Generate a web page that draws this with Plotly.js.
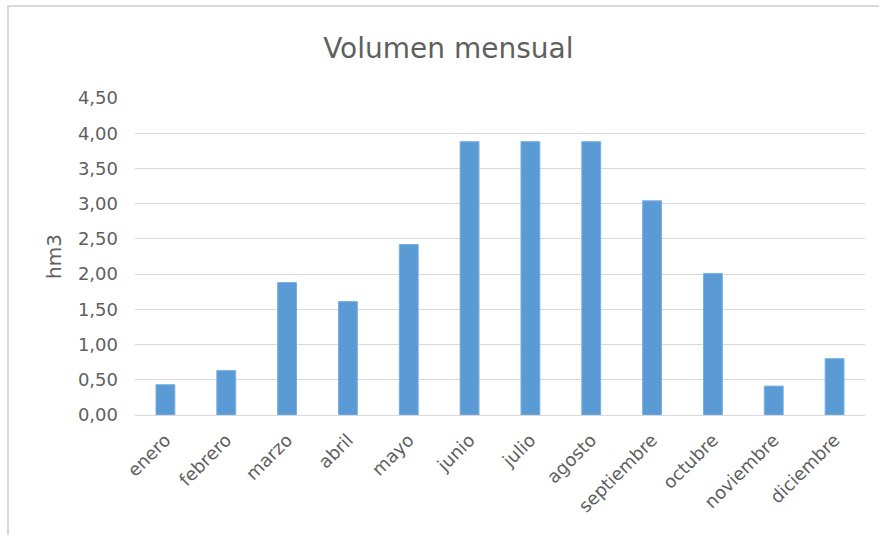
<!DOCTYPE html>
<html>
<head>
<meta charset="utf-8">
<script src="https://cdn.plot.ly/plotly-3.0.1.min.js"></script>
<style>
  html, body { margin: 0; padding: 0; background: #ffffff; overflow: hidden; }
  #frame { position: absolute; left: 7px; top: 5px; width: 880px; height: 540px; border-left: 2px solid #d9d9d9; border-top: 2px solid #d9d9d9; box-sizing: border-box; pointer-events: none; }
  #chart { position: absolute; left: 0; top: 0; width: 879px; height: 535px; }
</style>
</head>
<body>
<div id="chart"></div>
<div id="frame"></div>
<script>
const months = ["enero", "febrero", "marzo", "abril", "mayo", "junio", "julio", "agosto", "septiembre", "octubre", "noviembre", "diciembre"];
const volumen = [0.43, 0.63, 1.88, 1.61, 2.42, 3.88, 3.88, 3.88, 3.04, 2.01, 0.41, 0.80];
const yTicks = [0, 0.5, 1, 1.5, 2, 2.5, 3, 3.5, 4, 4.5];
const yTickText = ["0,00", "0,50", "1,00", "1,50", "2,00", "2,50", "3,00", "3,50", "4,00", "4,50"];

const font = "DejaVu Sans, sans-serif";
const grey = "#5f5f5f";

Plotly.newPlot("chart", [{
  type: "bar",
  x: months,
  y: volumen,
  marker: { color: "#5b9bd5", line: { color: "#7aaee0", width: 1 } },
  width: 0.31,
  hoverinfo: "x+y"
}], {
  width: 879,
  height: 535,
  margin: { l: 135, r: 14, t: 98, b: 120 },
  paper_bgcolor: "#ffffff",
  plot_bgcolor: "#ffffff",
  showlegend: false,
  title: {
    text: "Volumen mensual",
    font: { family: font, size: 28, color: grey },
    x: 0.51, xanchor: "center",
    y: 0.91, yanchor: "middle"
  },
  xaxis: {
    type: "category",
    tickangle: -45,
    tickfont: { family: font, size: 18, color: grey },
    showgrid: false,
    showline: false,
    zeroline: false,
    ticks: "",
    ticklabelstandoff: 10
  },
  yaxis: {
    range: [0, 4.5],
    tickvals: yTicks,
    ticktext: yTickText,
    tickfont: { family: font, size: 18, color: grey },
    showgrid: true,
    gridcolor: "#d9d9d9",
    gridwidth: 1,
    zeroline: true,
    zerolinecolor: "#d9d9d9",
    zerolinewidth: 1,
    showline: false,
    ticks: "",
    ticklabelstandoff: 16,
    title: { text: "hm3", font: { family: font, size: 20, color: grey }, standoff: 10 }
  }
}, { displayModeBar: false, staticPlot: true });
</script>
</body>
</html>
